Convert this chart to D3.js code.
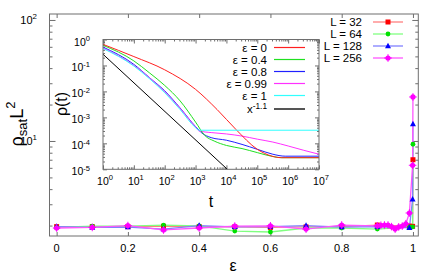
<!DOCTYPE html>
<html>
<head>
<meta charset="utf-8">
<script src="https://cdn.jsdelivr.net/npm/d3@7"></script>
<style>
body { margin: 0; background: #fff; }
text { font-family: "Liberation Sans", Arial, sans-serif; fill: #000; }
</style>
</head>
<body>
<svg id="chart" width="436" height="275"></svg>
<script>
// main plot data: rho_sat L^2 vs epsilon
const epsCommon = [0, 0.1, 0.2, 0.3, 0.4, 0.5, 0.6, 0.7, 0.8, 0.9, 0.99, 0.999, 1];
const eps256 = [0, 0.1, 0.2, 0.3, 0.4, 0.5, 0.6, 0.7, 0.8, 0.9, 0.91, 0.92, 0.93, 0.94, 0.95, 0.96, 0.97, 0.98, 0.99, 0.999, 1];
const val32 = [1.96, 1.96, 1.96, 1.97, 1.96, 1.95, 1.93, 1.95, 1.96, 2.02, 1.98, 1.97, 7.0];
const val64 = [1.93, 1.98, 1.98, 2.02, 1.99, 1.80, 1.77, 1.91, 1.91, 1.87, 1.95, 1.95, 9.4];
const val128 = [1.96, 1.93, 1.94, 1.87, 2.00, 1.95, 1.96, 2.00, 1.94, 1.96, 1.92, 3.3, 13.8];
const val256 = [1.91, 1.93, 2.00, 1.84, 1.91, 1.98, 1.99, 1.87, 2.02, 1.99, 2.01, 2.02, 2.02, 1.96, 1.87, 1.95, 1.98, 2.07, 2.54, 6.3, 23.1];
const mainLabels = ['L = 32', 'L = 64', 'L = 128', 'L = 256'];
const xTicks = [0, 0.2, 0.4, 0.6, 0.8, 1];
const xTickLabels = ['0', '0.2', '0.4', '0.6', '0.8', '1'];

// inset data: rho(t)
const tRed = [1, 10, 100, 1e3, 5e3, 2e4, 1e5, 3e5, 6e5, 1e7];
const rhoRed = [0.65, 0.22, 0.068, 0.012, 2.0e-3, 3.5e-4, 5.9e-5, 3.2e-5, 2.8e-5, 2.8e-5];
const tGreen = [1, 10, 32, 100, 316, 1e3, 2e3, 4e3, 1e4, 3.2e4, 1e5, 3.2e5, 6.3e5, 1e7];
const rhoGreen = [0.60, 0.15, 0.052, 0.017, 4.3e-3, 6.6e-4, 2.0e-4, 1.23e-4, 8.3e-5, 6.3e-5, 4.4e-5, 3.1e-5, 2.8e-5, 2.8e-5];
const tBlue = [1, 10, 32, 100, 316, 1e3, 1.6e3, 3.2e3, 1e4, 3.2e4, 1e5, 3.2e5, 8e5, 1e7];
const rhoBlue = [0.51, 0.11, 0.034, 0.0105, 2.3e-3, 4.4e-4, 2.5e-4, 1.66e-4, 1.32e-4, 9.1e-5, 5.9e-5, 3.8e-5, 3.2e-5, 3.2e-5];
const tMag = [1, 10, 100, 316, 1e3, 1.3e3, 3.2e3, 1e4, 3.2e4, 1e5, 3.2e5, 1e6, 3.2e6, 1e7];
const rhoMag = [0.47, 0.10, 9.5e-3, 2.2e-3, 4.2e-4, 3.0e-4, 2.6e-4, 2.3e-4, 1.9e-4, 1.45e-4, 1.12e-4, 7.9e-5, 5.4e-5, 3.8e-5];
const tCyan = [1, 10, 32, 100, 316, 1e3, 1.3e3, 1e7];
const rhoCyan = [0.45, 0.095, 0.031, 8.9e-3, 2.0e-3, 4.0e-4, 3.2e-4, 3.2e-4];
const tFit = [1, 1.1e4];
const rhoFit = [0.27, 9.7e-6];
const insetLabels = ['ε = 0', 'ε = 0.4', 'ε = 0.8', 'ε = 0.99', 'ε = 1', 'x'];

const svg = d3.select('#chart');

// ---- main plot ----
const M = {left: 49.5, right: 418.3, top: 14, bottom: 236};
const x = d3.scaleLinear().domain([-0.02, 1.015]).range([M.left, M.right]);
const y = d3.scaleLog().domain([1.64, 112]).range([M.bottom, M.top]);

const frameColor = '#6e6e6e';

function supLabel(sel, base, exp, fs, rise = 0.45) {
  sel.append('tspan').text(base);
  sel.append('tspan').attr('dy', -fs * rise).attr('font-size', fs * 0.72).text(exp);
}

// y ticks (log), inward on both sides
const yMinor = [2, 3, 4, 5, 6, 7, 8, 9, 20, 30, 40, 50, 60, 70, 80, 90];
const yMajor = [10, 100];
[[d3.axisLeft, M.left], [d3.axisRight, M.right]].forEach(([ax, pos]) => {
  svg.append('g').attr('transform', `translate(${pos},0)`)
    .call(ax(y).tickValues(yMinor).tickSize(-3).tickFormat(''))
    .call(g => g.select('.domain').remove())
    .call(g => g.selectAll('line').attr('stroke', frameColor));
  svg.append('g').attr('transform', `translate(${pos},0)`)
    .call(ax(y).tickValues(yMajor).tickSize(-6).tickFormat(''))
    .call(g => g.select('.domain').remove())
    .call(g => g.selectAll('line').attr('stroke', frameColor));
});
svg.append('g').selectAll('text').data(yMajor).enter().append('text')
  .attr('x', 37).attr('y', d => y(d) + 4)
  .attr('text-anchor', 'end').attr('font-size', 11)
  .each(function(d) { supLabel(d3.select(this), '10', Math.round(Math.log10(d)), 11); });

// x ticks
[[d3.axisBottom, M.bottom], [d3.axisTop, M.top]].forEach(([ax, pos]) => {
  svg.append('g').attr('transform', `translate(0,${pos})`)
    .call(ax(x).tickValues(xTicks).tickSize(-4).tickFormat(''))
    .call(g => g.select('.domain').remove())
    .call(g => g.selectAll('line').attr('stroke', frameColor));
});
svg.append('g').selectAll('text').data(xTicks).enter().append('text')
  .attr('x', d => x(d)).attr('y', 252)
  .attr('text-anchor', 'middle').attr('font-size', 11)
  .text((d, i) => xTickLabels[i]);

// axis titles
svg.append('text').attr('x', 233).attr('y', 271).attr('text-anchor', 'middle')
  .attr('font-size', 16).text('ε');
const yt = svg.append('text').attr('transform', 'translate(23,124) rotate(-90)')
  .attr('text-anchor', 'middle').attr('font-size', 18);
yt.append('tspan').text('ρ');
yt.append('tspan').attr('dy', 4).attr('font-size', 13).text('sat');
yt.append('tspan').attr('dy', -4).text('L');
yt.append('tspan').attr('dy', -8).attr('font-size', 13).text('2');

// series
const mainSeries = [
  {eps: epsCommon, val: val32, line: '#ff7f7f', mark: '#ff0000', shape: 'square'},
  {eps: epsCommon, val: val64, line: '#80ff80', mark: '#00e000', shape: 'circle'},
  {eps: epsCommon, val: val128, line: '#8080ff', mark: '#0000ff', shape: 'triangle'},
  {eps: eps256, val: val256, line: '#ff55ff', mark: '#ff00ff', shape: 'star'}
];
const line = d3.line().x(d => x(d[0])).y(d => y(d[1]));

function marker(g, cx, cy, s) {
  if (s.shape === 'square') {
    g.append('rect').attr('x', cx - 2.5).attr('y', cy - 2.5).attr('width', 5).attr('height', 5).attr('fill', s.mark);
  } else if (s.shape === 'circle') {
    g.append('circle').attr('cx', cx).attr('cy', cy).attr('r', 2.4).attr('fill', s.mark);
  } else if (s.shape === 'triangle') {
    g.append('path').attr('d', `M${cx},${cy - 3.3}L${cx + 3},${cy + 2.2}L${cx - 3},${cy + 2.2}Z`).attr('fill', s.mark);
  } else {
    g.append('circle').attr('cx', cx).attr('cy', cy).attr('r', 2.6).attr('fill', s.mark);
    g.append('path').attr('d', `M${cx - 3.8},${cy}H${cx + 3.8}M${cx},${cy - 3.8}V${cy + 3.8}`)
      .attr('stroke', s.mark).attr('stroke-width', 1);
  }
}

mainSeries.forEach(s => {
  const pts = s.eps.map((e, i) => [e, s.val[i]]);
  svg.append('path').datum(pts).attr('d', line)
    .attr('fill', 'none').attr('stroke', s.line).attr('stroke-width', 1.3);
});
mainSeries.forEach(s => {
  const g = svg.append('g');
  s.eps.forEach((e, i) => marker(g, x(e), y(s.val[i]), s));
});

// main legend
mainSeries.forEach((s, i) => {
  const ly = 22 + 12 * i;
  svg.append('text').attr('x', 362).attr('y', ly + 4).attr('text-anchor', 'end')
    .attr('font-size', 11.5).text(mainLabels[i]);
  svg.append('line').attr('x1', 373).attr('x2', 403).attr('y1', ly).attr('y2', ly)
    .attr('stroke', s.line).attr('stroke-width', 1.3);
  marker(svg.append('g'), 388, ly, s);
});

svg.append('rect').attr('x', M.left).attr('y', M.top)
  .attr('width', M.right - M.left).attr('height', M.bottom - M.top)
  .attr('fill', 'none').attr('stroke', frameColor).attr('stroke-width', 1);

// ---- inset ----
const I = {left: 103, right: 319, top: 39.5, bottom: 169.3};
const xi = d3.scaleLog().domain([1, 1e7]).range([I.left, I.right]);
const yi = d3.scaleLog().domain([1e-5, 1]).range([I.bottom, I.top]);

svg.append('rect').attr('x', I.left).attr('y', I.top)
  .attr('width', I.right - I.left).attr('height', I.bottom - I.top).attr('fill', '#fff');

const xiMajor = d3.range(0, 8).map(k => Math.pow(10, k));
const yiMajor = d3.range(-5, 1).map(k => Math.pow(10, k));
const minorOf = majors => majors.slice(0, -1).flatMap(m => d3.range(2, 10).map(k => k * m));

[[d3.axisBottom, I.bottom], [d3.axisTop, I.top]].forEach(([ax, pos]) => {
  svg.append('g').attr('transform', `translate(0,${pos})`)
    .call(ax(xi).tickValues(minorOf(xiMajor)).tickSize(-2).tickFormat(''))
    .call(g => g.select('.domain').remove())
    .call(g => g.selectAll('line').attr('stroke', frameColor));
  svg.append('g').attr('transform', `translate(0,${pos})`)
    .call(ax(xi).tickValues(xiMajor).tickSize(-4).tickFormat(''))
    .call(g => g.select('.domain').remove())
    .call(g => g.selectAll('line').attr('stroke', frameColor));
});
[[d3.axisLeft, I.left], [d3.axisRight, I.right]].forEach(([ax, pos]) => {
  svg.append('g').attr('transform', `translate(${pos},0)`)
    .call(ax(yi).tickValues(minorOf(yiMajor)).tickSize(-2).tickFormat(''))
    .call(g => g.select('.domain').remove())
    .call(g => g.selectAll('line').attr('stroke', frameColor));
  svg.append('g').attr('transform', `translate(${pos},0)`)
    .call(ax(yi).tickValues(yiMajor).tickSize(-4).tickFormat(''))
    .call(g => g.select('.domain').remove())
    .call(g => g.selectAll('line').attr('stroke', frameColor));
});

svg.append('g').selectAll('text').data(xiMajor).enter().append('text')
  .attr('x', d => xi(d) + 2).attr('y', 185).attr('text-anchor', 'middle').attr('font-size', 10.5)
  .each(function(d) { supLabel(d3.select(this), '10', Math.round(Math.log10(d)), 10.5); });
svg.append('g').selectAll('text').data(yiMajor).enter().append('text')
  .attr('x', 90).attr('y', d => yi(d) + 6).attr('text-anchor', 'end').attr('font-size', 10.5)
  .each(function(d) { supLabel(d3.select(this), '10', Math.round(Math.log10(d)), 10.5); });

svg.append('text').attr('x', 211).attr('y', 207).attr('text-anchor', 'middle')
  .attr('font-size', 16).text('t');
svg.append('text').attr('transform', 'translate(67,104) rotate(-90)')
  .attr('text-anchor', 'middle').attr('font-size', 16).text('ρ(t)');

const insetSeries = [
  {t: tRed, rho: rhoRed, color: '#ff2020'},
  {t: tGreen, rho: rhoGreen, color: '#20e020'},
  {t: tBlue, rho: rhoBlue, color: '#2020ff'},
  {t: tMag, rho: rhoMag, color: '#ff30ff'},
  {t: tCyan, rho: rhoCyan, color: '#30ffff'},
  {t: tFit, rho: rhoFit, color: '#000000'}
];
svg.append('clipPath').attr('id', 'insetClip').append('rect')
  .attr('x', I.left).attr('y', I.top).attr('width', I.right - I.left).attr('height', I.bottom - I.top);
const lineI = d3.line().x(d => xi(d[0])).y(d => yi(d[1])).curve(d3.curveMonotoneX);
const gi = svg.append('g').attr('clip-path', 'url(#insetClip)');
[2, 3, 1, 0, 4, 5].forEach(k => {
  const s = insetSeries[k];
  gi.append('path').datum(s.t.map((t, i) => [t, s.rho[i]])).attr('d', lineI)
    .attr('fill', 'none').attr('stroke', s.color).attr('stroke-width', 1);
});

// inset legend
insetSeries.forEach((s, i) => {
  const ly = i === 5 ? 109 : 47.5 + 12 * i;
  const tx = svg.append('text').attr('x', 267).attr('y', ly + 4).attr('text-anchor', 'end')
    .attr('font-size', 11.5);
  if (i === 5) supLabel(tx, 'x', '-1.1', 11.5, 0.38);
  else tx.text(insetLabels[i]);
  svg.append('line').attr('x1', 274).attr('x2', 305).attr('y1', ly).attr('y2', ly)
    .attr('stroke', i === 5 ? '#555' : s.color).attr('stroke-width', i === 5 ? 2 : 1.2);
});

svg.append('rect').attr('x', I.left).attr('y', I.top)
  .attr('width', I.right - I.left).attr('height', I.bottom - I.top)
  .attr('fill', 'none').attr('stroke', frameColor).attr('stroke-width', 1);
</script>
</body>
</html>
